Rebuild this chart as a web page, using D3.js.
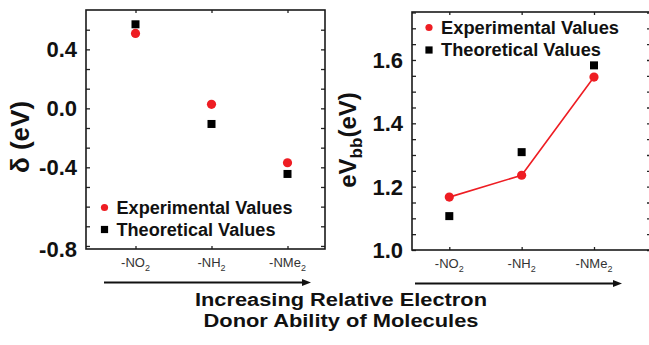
<!DOCTYPE html>
<html><head><meta charset="utf-8">
<script src="https://cdn.jsdelivr.net/npm/d3@7"></script>
<style>body{margin:0;background:#fff}svg{display:block}</style>
</head><body>
<svg id="c" width="649" height="345"></svg>
<script>
// ---- data ----
const categories = ["-NO", "-NH", "-NMe"];   // each followed by subscript 2
const categorySub = ["2", "2", "2"];
const deltaExp = [0.508, 0.027, -0.369];
const deltaTheo = [0.57, -0.106, -0.445];
const vbbExp = [1.167, 1.236, 1.546];
const vbbTheo = [1.107, 1.309, 1.583];
const leftTickValues = [0.4, 0.0, -0.4, -0.8];
const leftTickLabels = ["0.4", "0.0", "-0.4", "-0.8"];
const rightTickValues = [1.0, 1.2, 1.4, 1.6];
const rightTickLabels = ["1.0", "1.2", "1.4", "1.6"];
const legendLabels = ["Experimental Values", "Theoretical Values"];
const titleLines = ["Increasing Relative Electron", "Donor Ability of Molecules"];

const RED = "#ee1d23", FONT = "'Liberation Sans', Arial, sans-serif";
const svg = d3.select("#c");

function panel(cfg) {
  const g = svg.append("g");
  const {x0, x1, y0, y1, y, x} = cfg;
  const minor = cfg.minorTicks;
  g.append("g").attr("transform", `translate(${x0},0)`)
    .call(d3.axisLeft(y).tickValues(minor).tickSize(-4).tickFormat(""))
    .call(s => s.select(".domain").remove())
    .selectAll("line").attr("stroke", "#222").attr("stroke-width", 1.3);
  g.append("g").attr("transform", `translate(${x1},0)`)
    .call(d3.axisRight(y).tickValues(minor).tickSize(-4).tickFormat(""))
    .call(s => s.select(".domain").remove())
    .selectAll("line").attr("stroke", "#222").attr("stroke-width", 1.3);
  g.append("g").attr("transform", `translate(0,${y1})`)
    .call(d3.axisBottom(x).tickSize(-3).tickFormat(""))
    .call(s => s.select(".domain").remove())
    .selectAll("line").attr("stroke", "#222").attr("stroke-width", 1.3);
  g.append("g").attr("transform", `translate(0,${y0})`)
    .call(d3.axisTop(x).tickSize(-3).tickFormat(""))
    .call(s => s.select(".domain").remove())
    .selectAll("line").attr("stroke", "#222").attr("stroke-width", 1.3);
  g.append("rect").attr("x", x0).attr("y", y0).attr("width", x1 - x0).attr("height", y1 - y0)
    .attr("fill", "none").attr("stroke", "#1a1a1a").attr("stroke-width", 1.6);
  cfg.tickValues.forEach((v, i) => {
    const yy = cfg.labelPos ? cfg.labelPos(v, i) : y(v);
    g.append("text").attr("x", x0 - 9).attr("y", yy).attr("dy", "0.36em")
      .attr("text-anchor", "end").attr("font-family", FONT).attr("font-weight", "bold")
      .attr("font-size", 22).attr("fill", "#111").text(cfg.tickLabels[i]);
  });
  categories.forEach((c, i) => {
    const t = g.append("text").attr("x", x(c)).attr("y", cfg.xLabelY)
      .attr("text-anchor", "middle").attr("font-family", FONT).attr("font-size", 13).attr("fill", "#333");
    t.append("tspan").text(c);
    t.append("tspan").attr("dy", 4).attr("font-size", 9).text(categorySub[i]);
  });
  const ay = cfg.arrowY;
  g.append("line").attr("x1", cfg.arrowX0).attr("x2", cfg.arrowX1 - 6).attr("y1", ay).attr("y2", ay)
    .attr("stroke", "#111").attr("stroke-width", 2);
  g.append("path").attr("d", `M${cfg.arrowX1},${ay} L${cfg.arrowX1 - 9},${ay - 3.5} L${cfg.arrowX1 - 9},${ay + 3.5} Z`).attr("fill", "#111");
  return g;
}

function legend(g, lx, ly, gap, widths) {
  g.append("circle").attr("cx", lx).attr("cy", ly).attr("r", 3.6).attr("fill", RED);
  g.append("rect").attr("x", lx - 3.6).attr("y", ly + gap - 3.6).attr("width", 7.2).attr("height", 7.2).attr("fill", "#000");
  legendLabels.forEach((t, i) => {
    g.append("text").attr("x", lx + 12).attr("y", ly + i * gap).attr("dy", "0.36em")
      .attr("font-family", FONT).attr("font-weight", "bold").attr("font-size", 17.5).attr("fill", "#111")
      .attr("textLength", widths[i]).attr("lengthAdjust", "spacingAndGlyphs").text(t);
  });
}

// ---- left panel ----
const L = {x0: 86, x1: 325, y0: 10, y1: 249};
const yL = d3.scaleLinear().domain([-0.954, 0.667]).range([L.y1, L.y0]);
const xL = d3.scalePoint().domain(categories).range([135.5, 287.5]);
const leftMinor = d3.range(-7, 5).map(k => k * 0.4 / 3);
const gL = panel({...L, y: yL, x: xL, minorTicks: leftMinor, tickValues: leftTickValues, tickLabels: leftTickLabels,
  labelPos: (v, i) => i === leftTickValues.length - 1 ? L.y1 : yL(v),
  xLabelY: 267, arrowY: 282.5, arrowX0: 104, arrowX1: 311});
gL.selectAll(".exp").data(deltaExp).join("circle").attr("cx", (d, i) => xL(categories[i])).attr("cy", d => yL(d)).attr("r", 4.6).attr("fill", RED);
gL.selectAll(".theo").data(deltaTheo).join("rect").attr("x", (d, i) => xL(categories[i]) - 4).attr("y", d => yL(d) - 4).attr("width", 8).attr("height", 8).attr("fill", "#000");
legend(gL, 104.5, 207.5, 22, [176, 159]);
svg.append("text").attr("transform", "translate(29,137) rotate(-90)").attr("text-anchor", "middle")
  .attr("font-family", FONT).attr("font-weight", "bold").attr("font-size", 26).attr("fill", "#111").text("δ (eV)");

// ---- right panel ----
const R = {x0: 412, x1: 651, y0: 12, y1: 250};
const yR = d3.scaleLinear().domain([1.0, 1.7515]).range([R.y1, R.y0]);
const xR = d3.scalePoint().domain(categories).range([449.3, 594]);
const rightMinor = d3.range(0, 16).map(k => 1.0 + k * 0.05);
const gR = panel({...R, y: yR, x: xR, minorTicks: rightMinor, tickValues: rightTickValues, tickLabels: rightTickLabels,
  xLabelY: 268, arrowY: 283.5, arrowX0: 415, arrowX1: 622});
gR.append("path").datum(vbbExp)
  .attr("d", d3.line().x((d, i) => xR(categories[i])).y(d => yR(d)))
  .attr("fill", "none").attr("stroke", RED).attr("stroke-width", 1.6);
gR.selectAll(".exp").data(vbbExp).join("circle").attr("cx", (d, i) => xR(categories[i])).attr("cy", d => yR(d)).attr("r", 4.6).attr("fill", RED);
gR.selectAll(".theo").data(vbbTheo).join("rect").attr("x", (d, i) => xR(categories[i]) - 4).attr("y", d => yR(d) - 4).attr("width", 8).attr("height", 8).attr("fill", "#000");
legend(gR, 429, 27.5, 22.5, [178, 160]);
const tR = svg.append("text").attr("transform", "translate(356,140) rotate(-90)").attr("text-anchor", "middle")
  .attr("font-family", FONT).attr("font-weight", "bold").attr("font-size", 24).attr("fill", "#111");
tR.append("tspan").text("eV");
tR.append("tspan").attr("dy", 6).attr("font-size", 17).text("bb");
tR.append("tspan").attr("dy", -6).text("(eV)");

// ---- bottom title ----
const titleWidths = [292, 275];
titleLines.forEach((t, i) => {
  svg.append("text").attr("x", 341).attr("y", 306 + i * 21).attr("text-anchor", "middle")
    .attr("font-family", FONT).attr("font-weight", "bold").attr("font-size", 17.5).attr("fill", "#111")
    .attr("textLength", titleWidths[i]).attr("lengthAdjust", "spacingAndGlyphs").text(t);
});
</script>
</body></html>
